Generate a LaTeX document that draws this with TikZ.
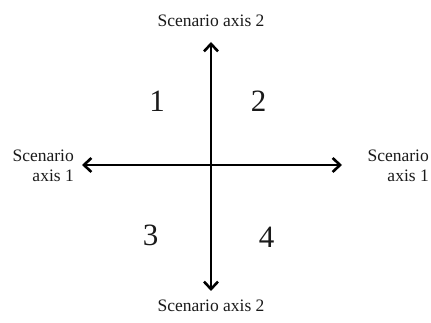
\documentclass[tikz,border=0pt]{standalone}
\usepackage{fontspec}
\setmainfont{Liberation Serif}
\usetikzlibrary{arrows.meta}
\newcommand{\AxisW}{2.8pt}
\newcommand{\LabelSize}{\fontsize{17.5}{19.5}\selectfont}
\newcommand{\QuadSize}{\fontsize{31}{34}\selectfont}
\definecolor{ink}{HTML}{000000}
\definecolor{txt}{HTML}{1A1A1A}

\begin{document}
\begin{tikzpicture}[x=1pt,y=1pt, line join=round, line cap=round,
  axisline/.style={ink,line width=\AxisW,
    {Straight Barb[length=7.5pt,width=14pt,line width=2.6pt]}-{Straight Barb[length=7.5pt,width=14pt,line width=2.6pt]}},
  axislabel/.style={txt,font=\LabelSize,inner sep=0pt,align=center},
  quadlabel/.style={txt,font=\QuadSize,inner sep=0pt}]

  % ---- frame: the page is exactly as large as the reference. --------------
  \useasboundingbox (0,0) rectangle (431,323);

  % ---- axis end points ----------------------------------------------------
  \coordinate (O) at (211,158);
  \coordinate (top) at (211,281);
  \coordinate (bottom) at (211,32);
  \coordinate (left) at (82,158);
  \coordinate (right) at (342,158);

  % ---- axes ---------------------------------------------------------------
  \draw[axisline] (bottom) -- (top);
  \draw[axisline] (left) -- (right);

  % ---- axis labels --------------------------------------------------------
  \node[axislabel] (labtop) at (211,302) {Scenario axis 2};
  \node[axislabel] (labbot) at (211,17) {Scenario axis 2};
  \node[axislabel,align=right,anchor=east] (lableft) at (74,157) {Scenario\\axis 1};
  \node[axislabel,align=right,anchor=east] (labright) at (429,157) {Scenario\\axis 1};

  % ---- quadrant numbers ---------------------------------------------------
  \node[quadlabel] (q1) at (157,222) {1};
  \node[quadlabel] (q2) at (258.5,222) {2};
  \node[quadlabel] (q3) at (150.5,88) {3};
  \node[quadlabel] (q4) at (266.5,86) {4};

\end{tikzpicture}
\end{document}
